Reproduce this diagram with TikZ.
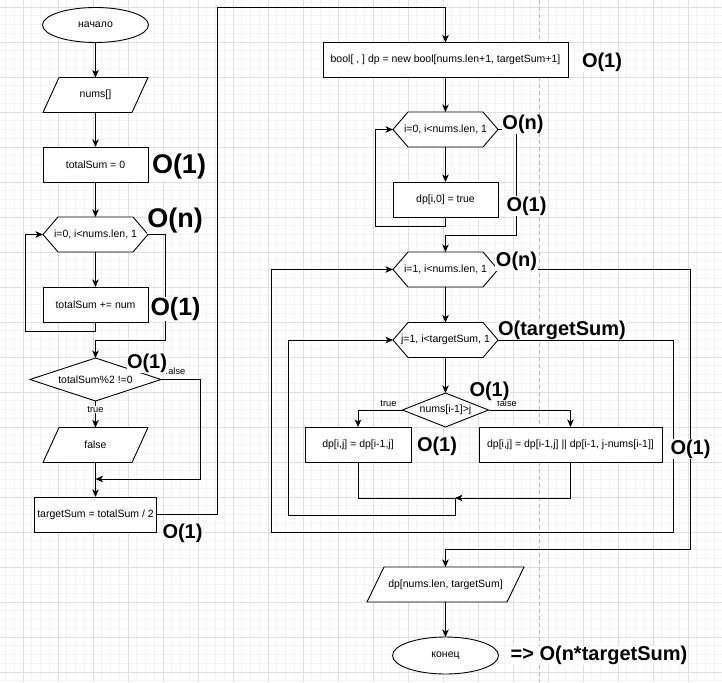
\documentclass[tikz,border=0pt]{standalone}
\usepackage{fontspec}
\setmainfont{Liberation Sans}
\usetikzlibrary{shapes.geometric,arrows.meta}
\pgfdeclarelayer{gridlayer}
\pgfdeclarelayer{shapelayer}
\pgfsetlayers{gridlayer,shapelayer,main}
\newcommand\hexoutline[1]{\filldraw[shapeline] ([xshift=15pt]#1.north west) -- ([xshift=-15pt]#1.north east) -- (#1.east) -- ([xshift=-15pt]#1.south east) -- ([xshift=15pt]#1.south west) -- (#1.west) -- cycle;}
\newcommand\diaoutline[1]{\filldraw[shapeline] (#1.north) -- (#1.east) -- (#1.south) -- (#1.west) -- cycle;}
\newcommand\paraoutline[2]{\filldraw[shapeline] ([xshift=#2]#1.north west) -- (#1.north east) -- ([xshift=-#2]#1.south east) -- (#1.south west) -- cycle;}
\begin{document}
\begin{tikzpicture}[x=1pt,y=-1pt,
  line/.style={line width=0.9pt, draw=black},
  arr/.style={line, -{Stealth[length=7.5pt,width=6.5pt,inset=2pt]}},
  shapeline/.style={line width=0.9pt, draw=black, fill=white},
  txt/.style={font=\fontsize{10.5}{12}\selectfont, inner sep=0pt, outer sep=0pt, align=center},
  boxn/.style={txt, draw=black, fill=white, line width=0.9pt, minimum height=35pt},
  plain/.style={txt, minimum height=35pt},
  ell/.style={txt, ellipse, draw=black, fill=white, line width=0.9pt, minimum width=106pt, minimum height=35pt},
  elab/.style={font=\fontsize{9.3}{11}\selectfont, inner sep=0.5pt, fill=white},
  cx/.style={font=\fontsize{20}{24}\selectfont\bfseries, inner sep=0.5pt, fill=white},
  cxbig/.style={font=\fontsize{27}{32}\selectfont\bfseries, inner sep=0.5pt, fill=white}
]
\useasboundingbox (0,0) rectangle (722,682);
\begin{pgfonlayer}{gridlayer}
\fill[white] (0,0) rectangle (722,682);
\begin{scope}[shift={(23,7)}]
\draw[gray!9, line width=0.8pt, step=8.75pt] (-23,-7) grid (699,675);
\draw[gray!25, line width=0.8pt, step=35pt] (-23,-7) grid (699,675);
\end{scope}
\draw[gray!55, line width=0.8pt, dash pattern=on 4pt off 3pt] (539,0) -- (539,682);
\end{pgfonlayer}

% left column
\node[ell] (start) at (95.5,25) {начало};
\node[plain, minimum width=105pt] (nums) at (95.5,95) {nums[]};
\node[boxn, minimum width=105pt] (tsz) at (95.5,164.5) {totalSum = 0};
\node[plain, minimum width=105pt] (hexa) at (95.5,234.5) {i=0, i<nums.len, 1};
\node[boxn, minimum width=105pt] (tsadd) at (95.5,304.5) {totalSum += num};
\node[plain, minimum width=131pt, minimum height=43pt] (dia) at (95.5,379.5) {totalSum\%2 !=0};
\node[plain, minimum width=105pt] (fls) at (95.5,445) {false};
\node[boxn, minimum width=122pt] (tsh) at (95.5,514.5) {targetSum = totalSum / 2};

% right column
\node[boxn, minimum width=245pt] (bool) at (445.5,60) {bool[ , ] dp = new bool[nums.len+1, targetSum+1]};
\node[plain, minimum width=105pt] (hexb) at (445.5,129.5) {i=0, i<nums.len, 1};
\node[boxn, minimum width=105pt] (dpz) at (445.5,199.5) {dp[i,0] = true};
\node[plain, minimum width=105pt] (hexc) at (445.5,269.5) {i=1, i<nums.len, 1};
\node[plain, minimum width=105pt] (hexd) at (445.5,340) {j=1, i<targetSum, 1};
\node[plain, minimum width=86pt, minimum height=34pt] (dib) at (445.5,410) {nums[i-1]>j};
\node[boxn, minimum width=106pt] (lrect) at (358,444.5) {dp[i,j] = dp[i-1,j]};
\node[boxn, minimum width=183pt] (rrect) at (570.5,444.5) {dp[i,j] = dp[i-1,j] || dp[i-1, j-nums[i-1]]};
\node[plain, minimum width=157pt] (outp) at (445.5,584.5) {dp[nums.len, targetSum]};
\node[ell, minimum height=37pt] (fin) at (445.5,655.5) {конец};

\begin{pgfonlayer}{shapelayer}
\paraoutline{nums}{16pt}
\hexoutline{hexa}
\diaoutline{dia}
\paraoutline{fls}{16pt}
\hexoutline{hexb}
\hexoutline{hexc}
\hexoutline{hexd}
\diaoutline{dib}
\paraoutline{outp}{17pt}
\end{pgfonlayer}

% connectors, left
\draw[arr] (start.south) -- (nums.north);
\draw[arr] (nums.south) -- (tsz.north);
\draw[arr] (tsz.south) -- (hexa.north);
\draw[arr] (hexa.south) -- (tsadd.north);
\draw[arr] (tsadd.south) -- ++(0,9) -| ([xshift=-18pt]hexa.west) -- (hexa.west);
\draw[arr] (hexa.east) -- ++(17,0) |- ([yshift=18pt]dia.north) -- (dia.north);
\draw[arr] (dia.south) -- (fls.north) node[elab, pos=0.33] (ltrue) {true};
\coordinate (mergea) at (95.5,479);
\draw[arr] (dia.east) -- ++(39,0) |- (mergea);
\node[font=\fontsize{9.3}{11}\selectfont, inner sep=0pt] (lfalse) at (175.5,371.5) {false};
\draw[arr] (fls.south) -- (tsh.north);
\draw[arr] (tsh.east) -- ++(61,0) |- ([yshift=35.5pt]bool.north) -- (bool.north);

% connectors, right
\draw[arr] (bool.south) -- (hexb.north);
\draw[arr] (hexb.south) -- (dpz.north);
\draw[arr] (dpz.south) -- ++(0,9) -| ([xshift=-18pt]hexb.west) -- (hexb.west);
\draw[arr] (hexb.east) -- ++(18,0) |- ([yshift=17pt]hexc.north) -- (hexc.north);
\draw[arr] (hexc.south) -- (hexd.north);
\draw[arr] (hexd.south) -- (dib.north);
\draw[arr] (dib.west) -| (lrect.north);
\draw[arr] (dib.east) -| (rrect.north);
\node[elab] (rtrue) at (388.5,403.5) {true};
\node[elab] (rfalse) at (507,403) {false};
\coordinate (mergeb) at (455,498);
\draw[line] (lrect.south) |- (mergeb);
\draw[arr] (rrect.south) |- (mergeb);
\draw[arr] (mergeb) -- ++(0,17) -| ([xshift=-105pt]hexd.west) -- (hexd.west);
\coordinate (loopbr) at (673,532);
\coordinate (loopbl) at (271,532);
\draw[arr] (hexd.east) -| (loopbr) -- (loopbl) |- (hexc.west);
\draw[arr] (hexc.east) -- ++(192,0) |- ([yshift=18pt]outp.north) -- (outp.north);
\draw[arr] (outp.south) -- (fin.north);

% complexity labels
\node[cxbig] (c1) at (179,167) {O(1)};
\node[cxbig] (c2) at (175,221) {O(n)};
\node[cx, font=\fontsize{25}{30}\selectfont\bfseries] (c3) at (175.5,309) {O(1)};
\node[cx] (c4) at (147,363.5) {O(1)};
\node[cx] (c5) at (182.5,533) {O(1)};
\node[cx] (c6) at (602,62.5) {O(1)};
\node[cx] (c7) at (523,124) {O(n)};
\node[cx] (c8) at (526.5,206) {O(1)};
\node[cx] (c9) at (516.5,261) {O(n)};
\node[cx] (c10) at (562,330.5) {O(targetSum)};
\node[cx] (c11) at (489.5,391) {O(1)};
\node[cx] (c12) at (437,446) {O(1)};
\node[cx] (c13) at (690.5,449) {O(1)};
\node[cx] (c14) at (599,655.5) {=> O(n*targetSum)};
\end{tikzpicture}
\end{document}
